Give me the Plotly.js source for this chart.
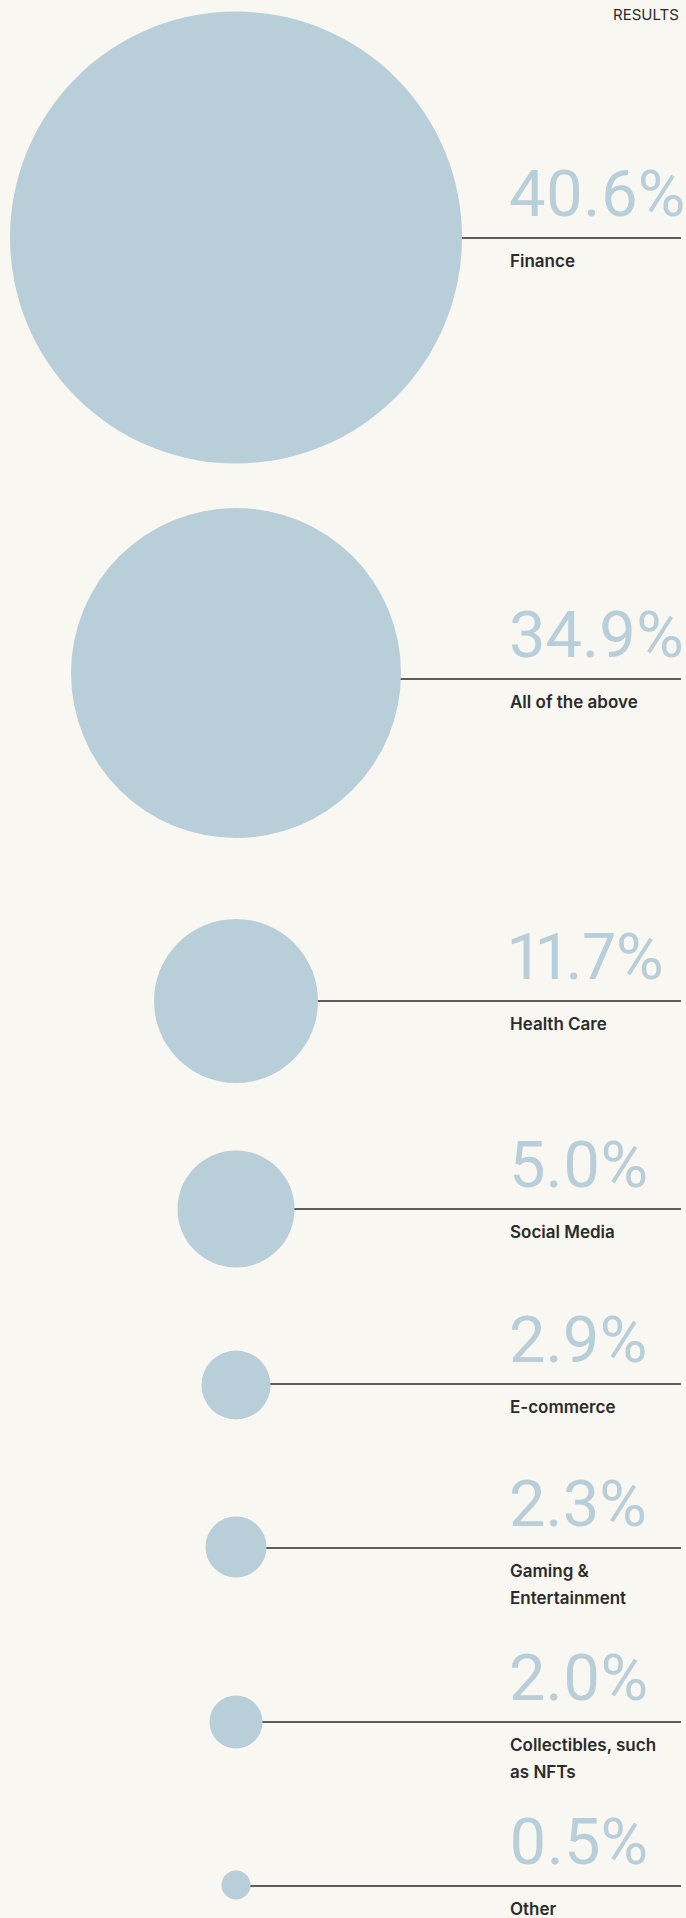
<!DOCTYPE html>
<html>
<head>
<meta charset="utf-8">
<script src="https://cdn.plot.ly/plotly-3.0.1.min.js"></script>
<style>
  html, body { margin: 0; padding: 0; background: #f8f7f2; }
  #chart { width: 686px; height: 1918px; }
  text, tspan { font-feature-settings: "pnum" 1; font-variant-numeric: proportional-nums; }
</style>
</head>
<body>
<div id="chart"></div>
<script>
// ---- data ----
const categories = ["Finance", "All of the above", "Health Care", "Social Media", "E-commerce",
                    "Gaming &\nEntertainment", "Collectibles, such\nas NFTs", "Other"];
const values = [40.6, 34.9, 11.7, 5.0, 2.9, 2.3, 2.0, 0.5];
const headerText = "RESULTS";

// ---- design / layout (pixels) ----
const circleDiameterPx = [452, 330, 164, 117, 69, 61, 53, 29];
const rowY = [238, 679, 1001, 1209, 1384, 1548, 1722, 1886];      // rule lines
const circleY = [237.5, 673, 1001, 1209, 1385, 1547, 1722, 1885]; // circle centres
const circleX = 236;
const textX = 507;
const ruleEndX = 681;

const W = 686, H = 1918;
const BLUE = "#b8ced8";
const INK = "#2b2b2b";

// rule lines (one trace, segments split by null)
const lx = [], ly = [];
rowY.forEach(y => { lx.push(circleX, ruleEndX, null); ly.push(y, y, null); });

const traces = [
  {
    type: "scatter", mode: "lines", x: lx, y: ly,
    line: { color: INK, width: 1.5 }, hoverinfo: "skip", showlegend: false
  },
  {
    type: "scatter", mode: "markers",
    x: values.map(() => circleX), y: circleY,
    text: categories, customdata: values,
    marker: { size: circleDiameterPx, color: BLUE, opacity: 1, line: { width: 0 } },
    hovertemplate: "%{text}: %{customdata}%<extra></extra>", showlegend: false
  }
];

const annotations = [];
values.forEach((v, i) => {
  annotations.push({
    xref: "x", yref: "y", x: textX, y: rowY[i] - 20,
    xanchor: "left", yanchor: "bottom", yshift: -16,
    text: v.toFixed(1) + "%", showarrow: false,
    font: { family: "Roboto, Arial, sans-serif", size: 65, color: BLUE, weight: 400 }
  });
  categories[i].split("\n").forEach((line, k) => {
    annotations.push({
      xref: "x", yref: "y", x: textX + 1, y: rowY[i] + 30 + k * 26.7,
      xanchor: "left", yanchor: "bottom", yshift: -5,
      text: line, showarrow: false,
      font: { family: "Inter, Arial, sans-serif", size: 17, color: INK, weight: 600 }
    });
  });
});
annotations.push({
  xref: "x", yref: "y", x: ruleEndX, y: 22,
  xanchor: "right", yanchor: "bottom", yshift: -4,
  text: headerText, showarrow: false,
  font: { family: "Inter, Arial, sans-serif", size: 15, color: INK, weight: 400 }
});

const layout = {
  width: W, height: H,
  margin: { l: 0, r: 0, t: 0, b: 0, pad: 0 },
  paper_bgcolor: "#f8f7f2", plot_bgcolor: "#f8f7f2",
  xaxis: { range: [0, W], visible: false, fixedrange: true },
  yaxis: { range: [H, 0], visible: false, fixedrange: true },
  annotations: annotations,
  showlegend: false
};

Plotly.newPlot("chart", traces, layout, { staticPlot: true, displayModeBar: false });
</script>
</body>
</html>
